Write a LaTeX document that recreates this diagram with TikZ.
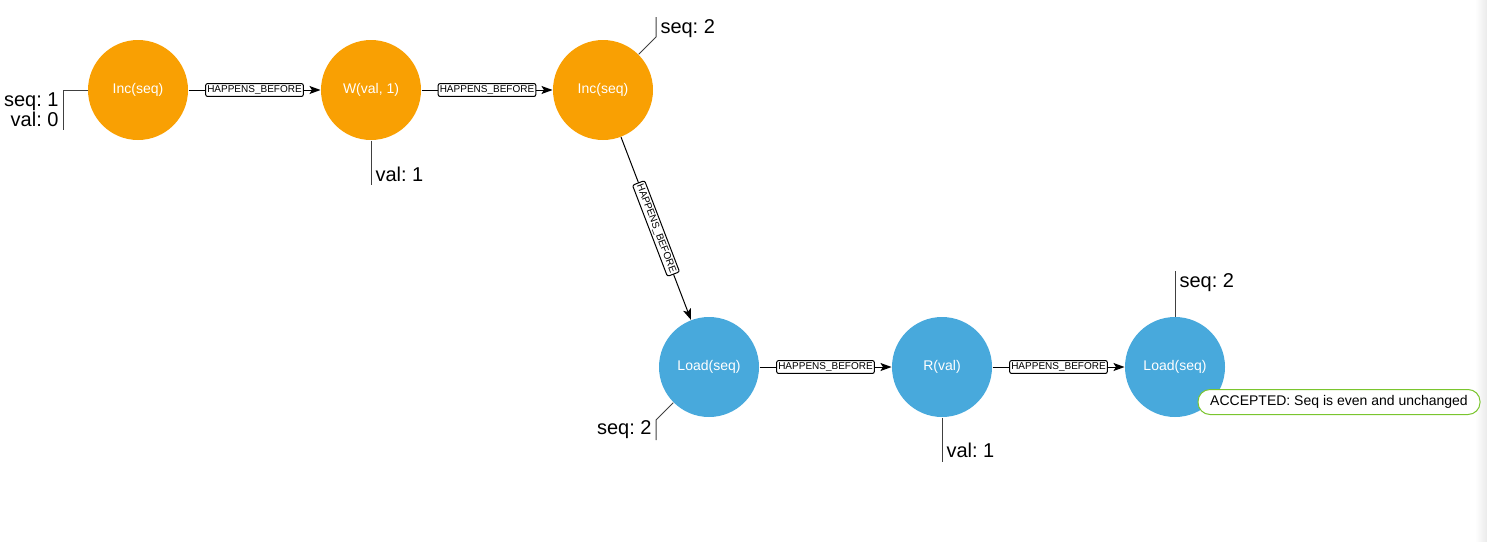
\documentclass[tikz,border=0pt]{standalone}
\usepackage{fontspec}
\setmainfont{Liberation Sans}
\usepackage{tikz}
\usetikzlibrary{arrows.meta,positioning,calc}
\definecolor{amber}{HTML}{F9A003}
\definecolor{sky}{HTML}{48A9DC}
\definecolor{okgreen}{HTML}{7AC52E}
\frenchspacing

\begin{document}
\begin{tikzpicture}[x=.5pt,y=-.5pt,line width=.5pt,
op/.style={circle,minimum size=50pt,inner sep=0pt,text=white,font=\fontsize{7}{8}\selectfont},
hb/.style={-{Stealth[length=5.5pt,width=4pt,inset=1.2pt]}},
tag/.style={draw,fill=white,rounded corners=1pt,inner xsep=.8pt,inner ysep=1pt,font=\fontsize{5}{6}\selectfont},
lead/.style={draw=black!75},
val/.style={inner sep=0pt,font=\fontsize{10}{10}\selectfont}]
\useasboundingbox (0,0) rectangle (1487,541);
\shade[left color=white,right color=black!8] (1475,0) rectangle (1487,541);
\foreach \n/\x/\y/\c/\t in {a/138/90/amber/Inc(seq),b/371/90/amber/{W(val, 1)},c/603/90/amber/Inc(seq),d/709/367/sky/Load(seq),e/942/367/sky/R(val),f/1175/367/sky/Load(seq)}
\node[op,fill=\c] (\n) at (\x,\y) {\t};
\foreach \p/\q in {a/b,b/c,d/e,e/f}
\draw[hb] (\p) -- node[tag]{HAPPENS\_BEFORE} (\q);
\draw[hb] (c) -- node[tag,sloped]{HAPPENS\_BEFORE} (d);
\coordinate (a1) at (63,90); \coordinate (a2) at (63,130);
\draw[lead] (a.west) -- (a1) -- (a2);
\node[val,anchor=base east] (as) at (59,106) {seq: 1};
\node[val,anchor=base east] (av) at (59,126.5) {val: 0};
\coordinate (b1) at (371,185);
\draw[lead] (b.south) -- (b1);
\node[val,anchor=base west] (bv) at (375,181) {val: 1};
\coordinate (c1) at (656,37); \coordinate (c2) at (656,17);
\draw[lead] (c.45) -- (c1) -- (c2);
\node[val,anchor=base west] (cs) at (660,33) {seq: 2};
\coordinate (d1) at (656,420); \coordinate (d2) at (656,440);
\draw[lead] (d.225) -- (d1) -- (d2);
\node[val,anchor=base east] (ds) at (652,434) {seq: 2};
\coordinate (e1) at (942,462);
\draw[lead] (e.south) -- (e1);
\node[val,anchor=base west] (ev) at (946,457) {val: 1};
\coordinate (f1) at (1175,271);
\draw[lead] (f.north) -- (f1);
\node[val,anchor=base west] (fs) at (1179,287) {seq: 2};
\node[draw=okgreen,fill=white,rounded corners=6pt,minimum height=12.5pt,minimum width=141pt,inner sep=0pt,font=\fontsize{7}{8}\selectfont] (ok) at (1339,402) {ACCEPTED: Seq is even and unchanged};
\end{tikzpicture}
\end{document}
